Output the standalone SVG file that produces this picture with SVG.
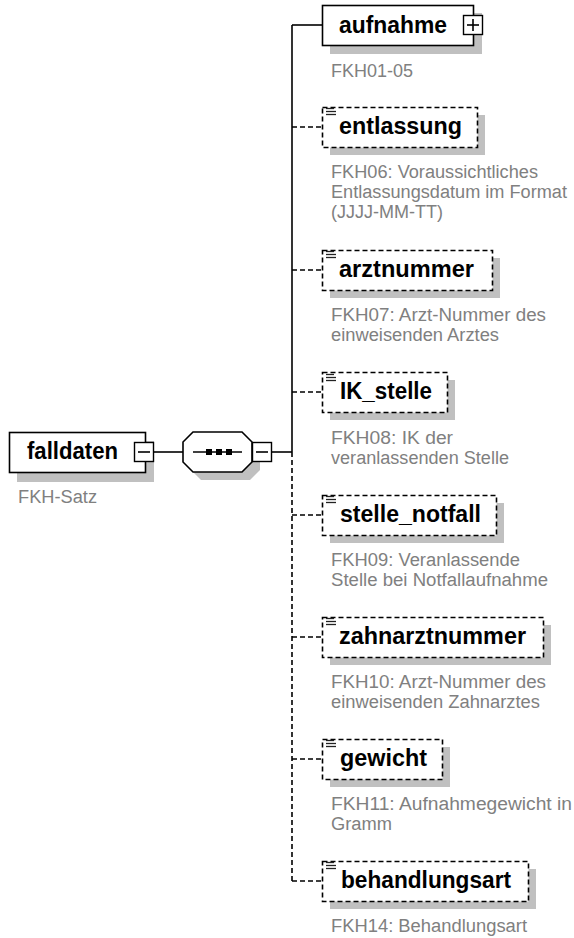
<svg xmlns="http://www.w3.org/2000/svg" width="574" height="938" viewBox="0 0 574 938">
<style>
.bg{fill:#ffffff}
.shadow{fill:#c0c0c0;stroke:none}
.box{fill:#ffffff;stroke:#000000;stroke-width:1.6}
.opt{fill:#ffffff;stroke:#000000;stroke-width:1.6;stroke-dasharray:5 3}
.lbl{font-family:"Liberation Sans",Arial,sans-serif;font-weight:bold;font-size:23px;fill:#000000}
.desc{font-family:"Liberation Sans",Arial,sans-serif;font-size:18px;fill:#808080}
.line{stroke:#000000;stroke-width:1.6;fill:none}
.dash{stroke:#000000;stroke-width:1.6;fill:none;stroke-dasharray:5 3}
.btn{fill:#ffffff;stroke:#000000;stroke-width:1.4}
.icon{stroke:#222222;stroke-width:1.3}
</style>
<defs>
<g id="simpleicon">
<line class="icon" x1="0" y1="0.5" x2="8" y2="0.5"/>
<line class="icon" x1="0" y1="3.5" x2="10" y2="3.5"/>
<line class="icon" x1="0" y1="6.5" x2="10" y2="6.5"/>
</g>
</defs>
<rect class="bg" x="0" y="0" width="574" height="938"/>

<g id="connectors">
<line class="line" x1="154" y1="452" x2="183" y2="452"/>
<line class="line" x1="272" y1="452" x2="292" y2="452"/>
<line class="line" x1="292" y1="25" x2="292" y2="452"/>
<line class="dash" x1="292" y1="452" x2="292" y2="881"/>
<line class="line" x1="292" y1="25" x2="322" y2="25"/>
<line class="dash" x1="292" y1="127" x2="322" y2="127"/>
<line class="dash" x1="292" y1="270" x2="322" y2="270"/>
<line class="dash" x1="292" y1="392" x2="322" y2="392"/>
<line class="dash" x1="292" y1="515" x2="322" y2="515"/>
<line class="dash" x1="292" y1="637" x2="322" y2="637"/>
<line class="dash" x1="292" y1="759" x2="322" y2="759"/>
<line class="dash" x1="292" y1="881" x2="322" y2="881"/>
</g>

<g id="falldaten">
<rect class="shadow" x="17" y="441" width="137" height="41"/>
<rect class="box" x="9.5" y="432.5" width="136" height="40"/>
<text class="lbl" x="27" y="459" textLength="91" lengthAdjust="spacingAndGlyphs">falldaten</text>
<rect class="btn" x="134.5" y="442.5" width="19" height="19"/>
<line class="line" x1="138" y1="452" x2="150" y2="452"/>
<text class="desc" x="18" y="503" textLength="79" lengthAdjust="spacingAndGlyphs">FKH-Satz</text>
</g>

<g id="sequence">
<polygon class="shadow" points="201,440 250,440 260,450 260,470 250,480 201,480 191,470 191,450"/>
<polygon class="box" points="193,432 242,432 252,442 252,462 242,472 193,472 183,462 183,442"/>
<line class="line" x1="193" y1="452" x2="242" y2="452"/>
<rect x="206" y="449" width="6" height="6" fill="#000"/>
<rect x="216" y="449" width="6" height="6" fill="#000"/>
<rect x="226" y="449" width="6" height="6" fill="#000"/>
<rect class="btn" x="252.5" y="442.5" width="19" height="19"/>
<line class="line" x1="256" y1="452" x2="268" y2="452"/>
</g>

<g id="aufnahme">
<rect class="shadow" x="330" y="13" width="152" height="41"/>
<rect class="box" x="322.5" y="5.5" width="151" height="40"/>
<text class="lbl" x="339" y="33" textLength="108" lengthAdjust="spacingAndGlyphs">aufnahme</text>
<rect class="btn" x="463.5" y="15.5" width="19" height="19"/>
<line class="line" x1="467" y1="25" x2="479" y2="25"/>
<line class="line" x1="473" y1="19" x2="473" y2="31"/>
<text class="desc" x="331" y="77" textLength="82" lengthAdjust="spacingAndGlyphs">FKH01-05</text>
</g>

<g id="entlassung">
<rect class="shadow" x="330" y="115" width="155" height="40"/>
<rect class="opt" x="322.5" y="107.5" width="155" height="40"/>
<use href="#simpleicon" x="326" y="108"/>
<text class="lbl" x="339" y="134" textLength="123" lengthAdjust="spacingAndGlyphs">entlassung</text>
<text class="desc" x="331" y="178" textLength="207" lengthAdjust="spacingAndGlyphs">FKH06: Voraussichtliches</text>
<text class="desc" x="331" y="198" textLength="236" lengthAdjust="spacingAndGlyphs">Entlassungsdatum im Format</text>
<text class="desc" x="331" y="218" textLength="112" lengthAdjust="spacingAndGlyphs">(JJJJ-MM-TT)</text>
</g>

<g id="arztnummer">
<rect class="shadow" x="330" y="258" width="170" height="40"/>
<rect class="opt" x="322.5" y="250.5" width="170" height="40"/>
<use href="#simpleicon" x="326" y="251"/>
<text class="lbl" x="339" y="277" textLength="135" lengthAdjust="spacingAndGlyphs">arztnummer</text>
<text class="desc" x="331" y="321" textLength="215" lengthAdjust="spacingAndGlyphs">FKH07: Arzt-Nummer des</text>
<text class="desc" x="331" y="341" textLength="168" lengthAdjust="spacingAndGlyphs">einweisenden Arztes</text>
</g>

<g id="IK_stelle">
<rect class="shadow" x="330" y="380" width="125" height="40"/>
<rect class="opt" x="322.5" y="372.5" width="125" height="40"/>
<use href="#simpleicon" x="326" y="374"/>
<text class="lbl" x="340" y="399" textLength="92" lengthAdjust="spacingAndGlyphs">IK_stelle</text>
<text class="desc" x="331" y="444" textLength="122" lengthAdjust="spacingAndGlyphs">FKH08: IK der</text>
<text class="desc" x="331" y="464" textLength="178" lengthAdjust="spacingAndGlyphs">veranlassenden Stelle</text>
</g>

<g id="stelle_notfall">
<rect class="shadow" x="330" y="503" width="174" height="40"/>
<rect class="opt" x="322.5" y="495.5" width="174" height="40"/>
<use href="#simpleicon" x="326" y="496"/>
<text class="lbl" x="340" y="522" textLength="141" lengthAdjust="spacingAndGlyphs">stelle_notfall</text>
<text class="desc" x="331" y="566" textLength="189" lengthAdjust="spacingAndGlyphs">FKH09: Veranlassende</text>
<text class="desc" x="331" y="586" textLength="217" lengthAdjust="spacingAndGlyphs">Stelle bei Notfallaufnahme</text>
</g>

<g id="zahnarztnummer">
<rect class="shadow" x="330" y="625" width="221" height="40"/>
<rect class="opt" x="322.5" y="617.5" width="221" height="40"/>
<use href="#simpleicon" x="326" y="618"/>
<text class="lbl" x="339" y="644" textLength="187" lengthAdjust="spacingAndGlyphs">zahnarztnummer</text>
<text class="desc" x="331" y="688" textLength="215" lengthAdjust="spacingAndGlyphs">FKH10: Arzt-Nummer des</text>
<text class="desc" x="331" y="708" textLength="209" lengthAdjust="spacingAndGlyphs">einweisenden Zahnarztes</text>
</g>

<g id="gewicht">
<rect class="shadow" x="330" y="747" width="120" height="40"/>
<rect class="opt" x="322.5" y="739.5" width="120" height="40"/>
<use href="#simpleicon" x="326" y="740"/>
<text class="lbl" x="340" y="766" textLength="87" lengthAdjust="spacingAndGlyphs">gewicht</text>
<text class="desc" x="331" y="810" textLength="241" lengthAdjust="spacingAndGlyphs">FKH11: Aufnahmegewicht in</text>
<text class="desc" x="331" y="830" textLength="61" lengthAdjust="spacingAndGlyphs">Gramm</text>
</g>

<g id="behandlungsart">
<rect class="shadow" x="330" y="869" width="206" height="40"/>
<rect class="opt" x="322.5" y="861.5" width="206" height="40"/>
<use href="#simpleicon" x="326" y="862"/>
<text class="lbl" x="341" y="888" textLength="170" lengthAdjust="spacingAndGlyphs">behandlungsart</text>
<text class="desc" x="331" y="932" textLength="196" lengthAdjust="spacingAndGlyphs">FKH14: Behandlungsart</text>
</g>
</svg>
